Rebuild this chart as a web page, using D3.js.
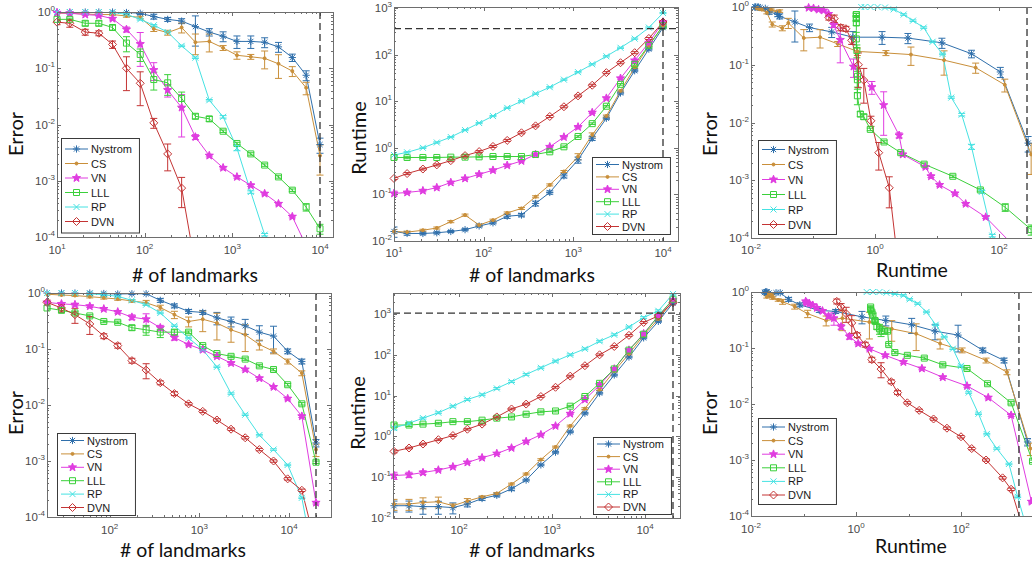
<!DOCTYPE html>
<html><head><meta charset="utf-8">
<script src="https://cdn.jsdelivr.net/npm/d3@7"></script>
<style>
html,body{margin:0;padding:0;background:#fff;}
svg{display:block;}
</style></head><body>
<svg id="chart" width="1032" height="562"></svg>
<script>
// ---------------- DATA ----------------
const methods = ["Nystrom", "CS", "VN", "LLL", "RP", "DVN"];
const landmarksTop = [10, 14, 21, 30, 43, 62, 89, 127, 183, 264, 379, 546, 785, 1129, 1624, 2336, 3360, 4833, 6952, 10000];
const landmarksBottom = [20, 29, 41, 60, 86, 123, 177, 255, 367, 527, 759, 1091, 1570, 2258, 3248, 4672, 6720, 9666, 13904, 20000];

// Error (top row), per method in the order of `methods`
const errTop = [
  [1.0, 1.0, 1.0, 1.0, 1.0, 0.98, 0.95, 0.83, 0.74, 0.69, 0.55, 0.44, 0.37, 0.30, 0.30, 0.29, 0.24, 0.155, 0.075, 0.0044],
  [0.95, 0.95, 0.92, 0.90, 0.90, 0.85, 0.80, 0.50, 0.43, 0.53, 0.29, 0.30, 0.23, 0.17, 0.16, 0.15, 0.12, 0.089, 0.045, 0.0028],
  [0.97, 0.95, 0.90, 0.87, 0.76, 0.49, 0.27, 0.093, 0.041, 0.020, 0.0060, 0.0028, 0.0017, 0.00117, 0.00083, 0.00059, 0.00039, 0.00023, 0.00007, 0.00002],
  [0.74, 0.74, 0.63, 0.63, 0.53, 0.28, 0.176, 0.063, 0.055, 0.029, 0.014, 0.0126, 0.0076, 0.0046, 0.0030, 0.0019, 0.00117, 0.00068, 0.00034, 0.00014],
  [1.0, 1.0, 1.0, 1.0, 0.98, 0.91, 0.74, 0.58, 0.44, 0.25, 0.154, 0.027, 0.0137, 0.0038, 0.00063, 0.00011, 0.00002, 0.00001, 0.00001, 0.00001],
  [0.66, 0.63, 0.44, 0.42, 0.265, 0.10, 0.054, 0.0107, 0.0030, 0.00074, 0.00003, 0.00001, 0.00001, 0.00001, 0.00001, 0.00001, 0.00001, 0.00001, 0.00001, 0.00001]
];
const errTopSd = [
  [0.02, 0.02, 0.02, 0.02, 0.02, 0.03, 0.05, 0.1, 0.08, 0.1, 0.55, 0.15, 0.2, 0.25, 0.25, 0.2, 0.2, 0.15, 0.2, 0.3],
  [0.02, 0.02, 0.03, 0.03, 0.03, 0.05, 0.05, 0.1, 0.1, 0.2, 0.4, 0.35, 0.1, 0.15, 0.1, 0.35, 0.45, 0.2, 0.25, 0.55],
  [0.02, 0.02, 0.03, 0.03, 0.05, 0.1, 0.6, 0.35, 0.25, 0.7, 0.1, 0.05, 0.05, 0.05, 0.05, 0.05, 0.05, 0.05, 0.05, 0.05],
  [0.05, 0.05, 0.1, 0.1, 0.1, 0.3, 0.25, 0.35, 0.4, 0.3, 0.1, 0.1, 0.05, 0.05, 0.05, 0.05, 0.05, 0.05, 0.15, 0.2],
  [0.02, 0.02, 0.02, 0.02, 0.02, 0.02, 0.03, 0.03, 0.03, 0.03, 0.03, 0.03, 0.05, 0.1, 0.05, 0.05, 0.05, 0.05, 0.05, 0.05],
  [0.1, 0.15, 0.12, 0.1, 0.15, 0.6, 0.6, 0.2, 0.5, 0.55, 0.5, 0.5, 0.5, 0.5, 0.5, 0.5, 0.5, 0.5, 0.5, 0.5]
];
// Runtime vs landmarks (top row)
const rtTop = [
  [0.016, 0.0145, 0.0145, 0.015, 0.016, 0.0175, 0.021, 0.0245, 0.034, 0.036, 0.064, 0.11, 0.25, 0.55, 1.6, 4.3, 15, 45, 131, 380],
  [0.016, 0.0155, 0.017, 0.019, 0.026, 0.036, 0.022, 0.028, 0.040, 0.050, 0.089, 0.16, 0.31, 0.65, 1.9, 4.8, 16.6, 53, 155, 415],
  [0.105, 0.11, 0.12, 0.14, 0.18, 0.22, 0.27, 0.33, 0.42, 0.52, 0.72, 1.05, 1.7, 2.8, 5.7, 11.6, 31, 75, 180, 500],
  [0.62, 0.62, 0.62, 0.62, 0.63, 0.63, 0.64, 0.65, 0.65, 0.65, 0.72, 0.82, 1.05, 1.75, 3.3, 7.8, 23, 62, 158, 415],
  [0.7, 0.8, 1.0, 1.3, 1.7, 2.4, 3.4, 4.8, 7.2, 10, 14.5, 20, 29, 42, 62, 92, 140, 220, 380, 780],
  [0.22, 0.28, 0.35, 0.43, 0.53, 0.68, 0.83, 1.07, 1.44, 2.1, 2.96, 4.7, 7.6, 13, 22, 41, 67, 110, 222, 500]
];
const rtTopSd = [
  [0.25, 0.08, 0.06, 0.05, 0.05, 0.05, 0.05, 0.05, 0.1, 0.08, 0.12, 0.08, 0.1, 0.15, 0.1, 0.05, 0.05, 0.05, 0.05, 0.05],
  [0.1, 0.05, 0.05, 0.05, 0.05, 0.05, 0.05, 0.05, 0.05, 0.05, 0.05, 0.05, 0.05, 0.15, 0.1, 0.05, 0.05, 0.05, 0.05, 0.05],
  [0.12, 0.05, 0.05, 0.05, 0.04, 0.04, 0.04, 0.04, 0.04, 0.04, 0.04, 0.04, 0.04, 0.04, 0.04, 0.04, 0.04, 0.04, 0.04, 0.04],
  [0.08, 0.06, 0.04, 0.04, 0.04, 0.04, 0.04, 0.04, 0.04, 0.04, 0.04, 0.04, 0.04, 0.04, 0.04, 0.04, 0.04, 0.04, 0.04, 0.04],
  [0.03, 0.03, 0.03, 0.03, 0.03, 0.03, 0.03, 0.03, 0.03, 0.03, 0.03, 0.03, 0.03, 0.03, 0.03, 0.03, 0.03, 0.03, 0.03, 0.03],
  [0.05, 0.05, 0.05, 0.05, 0.05, 0.05, 0.05, 0.05, 0.05, 0.05, 0.05, 0.05, 0.05, 0.05, 0.05, 0.05, 0.05, 0.05, 0.05, 0.05]
];
// Runtime as read on the error-vs-runtime plot (top right)
const rtTopErrPlot = [
  [0.013, 0.0116, 0.0116, 0.012, 0.013, 0.014, 0.017, 0.0196, 0.027, 0.029, 0.051, 0.088, 0.2, 0.44, 1.3, 3.4, 12, 36, 105, 295],
  [0.013, 0.0124, 0.0136, 0.015, 0.021, 0.029, 0.018, 0.022, 0.032, 0.04, 0.071, 0.13, 0.25, 0.52, 1.5, 3.8, 13, 42, 124, 330],
  [0.085, 0.102, 0.123, 0.148, 0.178, 0.215, 0.275, 0.45, 0.89, 1.38, 2.45, 2.8, 6.5, 8.0, 11, 19.5, 29, 61, 180, 500],
  [0.5, 0.5, 0.5, 0.5, 0.5, 0.5, 0.51, 0.52, 0.52, 0.52, 0.58, 0.66, 0.84, 1.4, 2.6, 6.2, 18, 50, 126, 330],
  [0.6, 0.68, 0.85, 1.1, 1.45, 2.0, 2.9, 4.1, 6.1, 8.5, 12.3, 17, 25, 36, 53, 78, 119, 187, 320, 660],
  [0.18, 0.22, 0.28, 0.34, 0.42, 0.54, 0.66, 0.86, 1.15, 1.7, 2.4, 3.8, 6.1, 10, 18, 33, 54, 88, 178, 400]
];
// Error (bottom row)
const errBottom = [
  [1.0, 1.0, 1.0, 1.0, 0.98, 0.96, 0.97, 0.97, 0.74, 0.59, 0.47, 0.45, 0.36, 0.31, 0.26, 0.20, 0.17, 0.091, 0.060, 0.0021],
  [0.95, 0.92, 0.90, 0.86, 0.82, 0.78, 0.72, 0.67, 0.55, 0.41, 0.31, 0.34, 0.29, 0.22, 0.18, 0.12, 0.091, 0.060, 0.037, 0.0016],
  [0.68, 0.64, 0.62, 0.58, 0.52, 0.46, 0.37, 0.34, 0.24, 0.16, 0.12, 0.097, 0.074, 0.056, 0.043, 0.030, 0.021, 0.013, 0.0063, 0.00018],
  [0.54, 0.49, 0.44, 0.39, 0.31, 0.30, 0.24, 0.22, 0.20, 0.20, 0.20, 0.115, 0.083, 0.074, 0.066, 0.050, 0.043, 0.023, 0.0105, 0.00095],
  [1.0, 1.0, 1.0, 0.97, 0.93, 0.87, 0.74, 0.62, 0.44, 0.26, 0.157, 0.097, 0.048, 0.016, 0.0067, 0.0029, 0.0016, 0.00085, 0.00022, 0.00001],
  [0.68, 0.54, 0.41, 0.28, 0.17, 0.115, 0.062, 0.042, 0.025, 0.016, 0.0105, 0.0077, 0.0054, 0.0037, 0.0026, 0.0016, 0.0010, 0.00048, 0.00030, 0.00003]
];
const errBottomSd = [
  [0.02, 0.02, 0.02, 0.02, 0.03, 0.03, 0.03, 0.03, 0.08, 0.08, 0.08, 0.08, 0.25, 0.2, 0.3, 0.3, 0.5, 0.1, 0.1, 0.15],
  [0.03, 0.03, 0.03, 0.05, 0.05, 0.05, 0.05, 0.1, 0.1, 0.15, 0.2, 0.4, 0.5, 0.4, 0.5, 0.2, 0.1, 0.1, 0.1, 0.25],
  [0.05, 0.05, 0.05, 0.05, 0.05, 0.05, 0.1, 0.25, 0.1, 0.1, 0.05, 0.05, 0.05, 0.05, 0.05, 0.05, 0.05, 0.05, 0.05, 0.05],
  [0.05, 0.08, 0.05, 0.05, 0.05, 0.05, 0.1, 0.2, 0.2, 0.1, 0.05, 0.05, 0.05, 0.05, 0.05, 0.05, 0.05, 0.05, 0.05, 0.05],
  [0.03, 0.03, 0.03, 0.03, 0.03, 0.03, 0.03, 0.03, 0.03, 0.03, 0.03, 0.03, 0.03, 0.03, 0.03, 0.03, 0.03, 0.03, 0.03, 0.03],
  [0.1, 0.15, 0.3, 0.35, 0.1, 0.1, 0.1, 0.3, 0.08, 0.08, 0.05, 0.05, 0.05, 0.05, 0.05, 0.05, 0.05, 0.05, 0.05, 0.05]
];
// Runtime vs landmarks (bottom row)
const rtBottom = [
  [0.020, 0.020, 0.019, 0.019, 0.018, 0.022, 0.030, 0.036, 0.052, 0.085, 0.20, 0.41, 1.3, 3.7, 11.5, 32, 88, 260, 660, 1850],
  [0.022, 0.022, 0.024, 0.025, 0.020, 0.026, 0.033, 0.040, 0.068, 0.12, 0.27, 0.55, 1.8, 4.8, 14, 40, 105, 300, 750, 2100],
  [0.11, 0.115, 0.13, 0.15, 0.18, 0.23, 0.30, 0.38, 0.52, 0.75, 1.1, 1.8, 3.6, 8, 18, 45, 130, 330, 900, 2200],
  [1.9, 1.9, 2.0, 2.1, 2.3, 2.3, 2.5, 2.8, 3.0, 3.5, 4.0, 4.2, 5.5, 9.5, 20, 45, 130, 320, 900, 2300],
  [1.6, 2.1, 2.8, 3.8, 5.5, 8, 10.5, 15, 22, 33, 48, 70, 100, 140, 215, 310, 480, 820, 1200, 3100],
  [0.43, 0.52, 0.65, 0.83, 1.05, 1.5, 2.0, 3.0, 4.7, 6.2, 9.5, 16, 30, 54, 100, 160, 300, 620, 900, 1900]
];
const rtBottomSd = [
  [0.3, 0.3, 0.35, 0.35, 0.3, 0.15, 0.1, 0.08, 0.1, 0.05, 0.05, 0.05, 0.05, 0.05, 0.05, 0.05, 0.05, 0.05, 0.05, 0.05],
  [0.3, 0.3, 0.3, 0.3, 0.1, 0.15, 0.05, 0.05, 0.05, 0.05, 0.05, 0.05, 0.05, 0.05, 0.05, 0.05, 0.05, 0.05, 0.05, 0.05],
  [0.2, 0.15, 0.1, 0.05, 0.05, 0.05, 0.05, 0.05, 0.05, 0.05, 0.05, 0.05, 0.05, 0.05, 0.05, 0.05, 0.05, 0.05, 0.05, 0.05],
  [0.1, 0.08, 0.05, 0.05, 0.05, 0.05, 0.05, 0.05, 0.05, 0.05, 0.05, 0.05, 0.05, 0.05, 0.05, 0.05, 0.05, 0.05, 0.05, 0.05],
  [0.1, 0.05, 0.05, 0.05, 0.05, 0.05, 0.05, 0.05, 0.05, 0.05, 0.05, 0.05, 0.05, 0.05, 0.05, 0.05, 0.05, 0.05, 0.05, 0.05],
  [0.08, 0.05, 0.05, 0.05, 0.05, 0.05, 0.05, 0.05, 0.05, 0.05, 0.05, 0.05, 0.05, 0.05, 0.05, 0.05, 0.05, 0.05, 0.05, 0.05]
];
// dashed reference lines (full kernel)
const fullLandmarks = [10000, 20000];
const fullRuntime = [360, 1050];
const fullRuntimeOnErrorPlot = [283, 1270];
const xTitles = ["# of landmarks", "# of landmarks", "Runtime", "# of landmarks", "# of landmarks", "Runtime"];
const yTitles = ["Error", "Runtime", "Error", "Error", "Runtime", "Error"];
const xTickValues = [[10, 100, 1000, 10000], [10, 100, 1000, 10000], [0.01, 1, 100], [100, 1000, 10000], [100, 1000, 10000], [0.01, 1, 100]];
const errTicks = [1e-4, 1e-3, 1e-2, 1e-1, 1];
const rtTicks = [1e-2, 1e-1, 1, 10, 100, 1000];

// ---------------- STYLE / LAYOUT ----------------
const colors = ["#2f6fab", "#c98f3a", "#e03ce0", "#3bd03b", "#46e2e2", "#c43434"];
const markerTypes = ["asterisk", "dot", "star", "square", "x", "diamond"];
const AX = "#6e6e6e";
const tickFont = "'Liberation Sans', Arial, sans-serif";
const titleFont = "Lato, 'Open Sans', sans-serif";

const panels = [
  {xv: landmarksTop, yv: errTop, sd: errTopSd, xa: [[10, 57], [1e4, 320]], ya: [[1, 12], [1e-4, 237]], box: [57, 333, 12, 237],
   yt: errTicks, vline: fullLandmarks[0], hline: null, leg: [61, 138, 14.5, 11], xt: [195, 282], ytp: [16, 134], xlabDy: 17},
  {xv: landmarksTop, yv: rtTop, sd: rtTopSd, xa: [[10, 394], [1e4, 663]], ya: [[1000, 8], [1e-2, 241]], box: [394, 678, 7, 241],
   yt: rtTicks, vline: fullLandmarks[0], hline: fullRuntime[0], leg: [592, 157, 12.4, 7.5], xt: [532, 282], ytp: [359, 138], xlabDy: 16},
  {xv: rtTopErrPlot, yv: errTop, sd: errTopSd, xa: [[0.01, 751], [100, 999]], ya: [[1, 7], [1e-4, 238]], box: [751, 1080, 7, 238],
   yt: errTicks, vline: fullRuntimeOnErrorPlot[0], hline: null, leg: [758, 140, 15, 9.5], xt: [912, 277], ytp: [710, 134], xlabDy: 16},
  {xv: landmarksBottom, yv: errBottom, sd: errBottomSd, xa: [[20, 47], [2e4, 316]], ya: [[1, 293], [1e-4, 517]], box: [47, 331, 293, 517],
   yt: errTicks, vline: fullLandmarks[1], hline: null, leg: [57, 433, 13.4, 7.5], xt: [183, 557], ytp: [16, 413], xlabDy: 17},
  {xv: landmarksBottom, yv: rtBottom, sd: rtBottomSd, xa: [[20, 394], [2e4, 673]], ya: [[1000, 314], [1e-2, 518]], box: [393, 680, 293, 518],
   yt: rtTicks, vline: fullLandmarks[1], hline: fullRuntime[1], leg: [593, 437, 12.6, 7], xt: [532, 557], ytp: [358, 413], xlabDy: 16},
  {xv: rtBottom, yv: errBottom, sd: errBottomSd, xa: [[0.01, 751], [100, 961]], ya: [[1, 292], [1e-4, 516]], box: [751, 1080, 292, 516],
   yt: errTicks, vline: fullRuntimeOnErrorPlot[1], hline: null, leg: [758, 418, 13.6, 9], xt: [911, 553], ytp: [710, 413], xlabDy: 17}
];

const svg = d3.select("#chart");
const defs = svg.append("defs");

function markerPath(type) {
  if (type === "asterisk") {
    const r = 3.6, a = 2.6;
    return `M${-r},0H${r}M0,${-r}V${r}M${-a},${-a}L${a},${a}M${-a},${a}L${a},${-a}`;
  }
  if (type === "x") { const a = 3; return `M${-a},${-a}L${a},${a}M${-a},${a}L${a},${-a}`; }
  if (type === "square") { const s = 3; return `M${-s},${-s}H${s}V${s}H${-s}Z`; }
  if (type === "diamond") { const r = 4; return `M0,${-r}L${r},0L0,${r}L${-r},0Z`; }
  if (type === "star") {
    const pts = [];
    for (let k = 0; k < 10; k++) {
      const rr = k % 2 === 0 ? 4.3 : 1.8;
      const ang = -Math.PI / 2 + k * Math.PI / 5;
      pts.push([rr * Math.cos(ang), rr * Math.sin(ang)]);
    }
    return "M" + pts.map(p => p[0].toFixed(2) + "," + p[1].toFixed(2)).join("L") + "Z";
  }
  return d3.symbol(d3.symbolCircle, 7)();
}
function drawMarker(g, type, color, x, y) {
  const p = g.append("path").attr("d", markerPath(type)).attr("transform", `translate(${x},${y})`)
    .attr("stroke", color).attr("stroke-width", 1);
  if (type === "star" || type === "dot") p.attr("fill", color);
  else p.attr("fill", "none");
}
function supLabel(t, v) {
  const e = Math.round(Math.log10(v));
  t.append("tspan").text("10");
  t.append("tspan").attr("dy", -5).attr("font-size", 8).text(String(e));
}

panels.forEach((p, pi) => {
  const xs = d3.scaleLog().domain([p.xa[0][0], p.xa[1][0]]).range([p.xa[0][1], p.xa[1][1]]);
  const ys = d3.scaleLog().domain([p.ya[0][0], p.ya[1][0]]).range([p.ya[0][1], p.ya[1][1]]);
  const [bx0, bx1, by0, by1] = p.box;
  const g = svg.append("g");
  const cid = "clip" + pi;
  defs.append("clipPath").attr("id", cid).append("rect").attr("x", bx0).attr("y", by0).attr("width", bx1 - bx0).attr("height", by1 - by0);

  // ticks
  const tg = g.append("g").attr("stroke", AX).attr("stroke-width", 1);
  const xMin = xs.invert(bx0), xMax = xs.invert(bx1);
  const yMin = ys.invert(by1), yMax = ys.invert(by0);
  const minorVals = (lo, hi) => {
    const out = [];
    for (let d = Math.floor(Math.log10(lo)) - 1; d <= Math.ceil(Math.log10(hi)); d++)
      for (let k = 2; k <= 9; k++) { const v = k * Math.pow(10, d); if (v > lo && v < hi) out.push(v); }
    return out;
  };
  const xMajor = xTickValues[pi], yMajor = p.yt;
  const isSparse = xMajor[1] / xMajor[0] > 50;
  let xMinor = minorVals(xMin, xMax);
  if (isSparse) {
    xMinor = [];
    for (let d = -3; d <= 4; d++) { const v = Math.pow(10, d); if (v > xMin && v < xMax && !xMajor.includes(v)) xMinor.push(v); }
  }
  xMajor.forEach(v => {
    const x = Math.round(xs(v)) + 0.5;
    tg.append("line").attr("x1", x).attr("x2", x).attr("y1", by1).attr("y2", by1 - 4);
    tg.append("line").attr("x1", x).attr("x2", x).attr("y1", by0).attr("y2", by0 + 4);
  });
  xMinor.forEach(v => {
    const x = Math.round(xs(v)) + 0.5;
    tg.append("line").attr("x1", x).attr("x2", x).attr("y1", by1).attr("y2", by1 - 2);
    tg.append("line").attr("x1", x).attr("x2", x).attr("y1", by0).attr("y2", by0 + 2);
  });
  yMajor.forEach(v => {
    const y = Math.round(ys(v)) + 0.5;
    tg.append("line").attr("x1", bx0).attr("x2", bx0 + 4).attr("y1", y).attr("y2", y);
    tg.append("line").attr("x1", bx1).attr("x2", bx1 - 4).attr("y1", y).attr("y2", y);
  });
  minorVals(yMin, yMax).forEach(v => {
    const y = Math.round(ys(v)) + 0.5;
    tg.append("line").attr("x1", bx0).attr("x2", bx0 + 2).attr("y1", y).attr("y2", y);
    tg.append("line").attr("x1", bx1).attr("x2", bx1 - 2).attr("y1", y).attr("y2", y);
  });

  // tick labels
  const lg = g.append("g").attr("font-family", tickFont).attr("font-size", 11.5).attr("fill", "#4a4a4a");
  xMajor.forEach(v => {
    const t = lg.append("text").attr("x", xs(v)).attr("y", by1 + p.xlabDy).attr("text-anchor", "middle");
    supLabel(t, v);
  });
  yMajor.forEach(v => {
    const t = lg.append("text").attr("x", bx0 - 2).attr("y", ys(v) + 4).attr("text-anchor", "end");
    supLabel(t, v);
  });

  // data
  const dg = g.append("g").attr("clip-path", `url(#${cid})`);
  const mg = g.append("g");
  methods.forEach((m, mi) => {
    const xArr = Array.isArray(p.xv[0]) ? p.xv[mi] : p.xv;
    const yArr = p.yv[mi], sdArr = p.sd[mi];
    const pts = yArr.map((v, i) => [xArr[i], v, sdArr[i]]);
    const col = colors[mi];
    dg.append("path").datum(pts)
      .attr("d", d3.line().x(d => xs(d[0])).y(d => ys(d[1])))
      .attr("fill", "none").attr("stroke", col).attr("stroke-width", 1);
    pts.forEach(d => {
      const x = xs(d[0]);
      const hi = d[1] * (1 + d[2]);
      const lo = Math.max(d[1] * (1 - d[2]), 1e-9);
      const yh = ys(hi), yl = ys(lo);
      dg.append("path").attr("d", `M${x},${yl}V${yh}M${x - 3.5},${yh}H${x + 3.5}M${x - 3.5},${yl}H${x + 3.5}`)
        .attr("stroke", col).attr("stroke-width", 1).attr("fill", "none");
      const y = ys(d[1]);
      if (x >= bx0 - 0.5 && x <= bx1 + 0.5 && y >= by0 - 0.5 && y <= by1 + 0.5) drawMarker(mg, markerTypes[mi], col, x, y);
    });
  });

  // dashed reference lines
  const rg = g.append("g").attr("clip-path", `url(#${cid})`).attr("stroke", "#333").attr("stroke-width", 1.3).attr("stroke-dasharray", "7,4");
  if (p.vline) rg.append("line").attr("x1", xs(p.vline)).attr("x2", xs(p.vline)).attr("y1", by0).attr("y2", by1);
  if (p.hline) rg.append("line").attr("x1", bx0).attr("x2", bx1).attr("y1", ys(p.hline)).attr("y2", ys(p.hline));

  // box
  g.append("rect").attr("x", bx0 + 0.5).attr("y", by0 + 0.5).attr("width", bx1 - bx0).attr("height", by1 - by0)
    .attr("fill", "none").attr("stroke", AX).attr("stroke-width", 1);

  // legend
  const [lx, ly, step, off] = p.leg;
  const leg = g.append("g");
  const lrect = leg.append("rect").attr("x", lx + 0.5).attr("y", ly + 0.5).attr("fill", "#fff").attr("stroke", "#3a3a3a").attr("stroke-width", 1);
  let maxW = 0;
  methods.forEach((m, mi) => {
    const ry = ly + off + mi * step;
    leg.append("line").attr("x1", lx + 4).attr("x2", lx + 27).attr("y1", ry).attr("y2", ry).attr("stroke", colors[mi]).attr("stroke-width", 1);
    drawMarker(leg, markerTypes[mi], colors[mi], lx + 15.5, ry);
    const t = leg.append("text").attr("x", lx + 30).attr("y", ry + 4).attr("font-family", tickFont).attr("font-size", 11).attr("fill", "#1a1a1a").text(m);
    maxW = Math.max(maxW, t.node().getComputedTextLength());
  });
  lrect.attr("width", 30 + maxW + 7).attr("height", off * 2 + step * (methods.length - 1));

  // axis titles
  g.append("text").attr("x", p.xt[0]).attr("y", p.xt[1]).attr("text-anchor", "middle")
    .attr("font-family", titleFont).attr("font-size", 19.5).attr("fill", "#111").text(xTitles[pi]);
  g.append("text").attr("transform", `translate(${p.ytp[0]},${p.ytp[1]}) rotate(-90)`).attr("text-anchor", "middle")
    .attr("dy", "0.35em").attr("font-family", titleFont).attr("font-size", 20).attr("fill", "#111").text(yTitles[pi]);
});
</script>
</body></html>
